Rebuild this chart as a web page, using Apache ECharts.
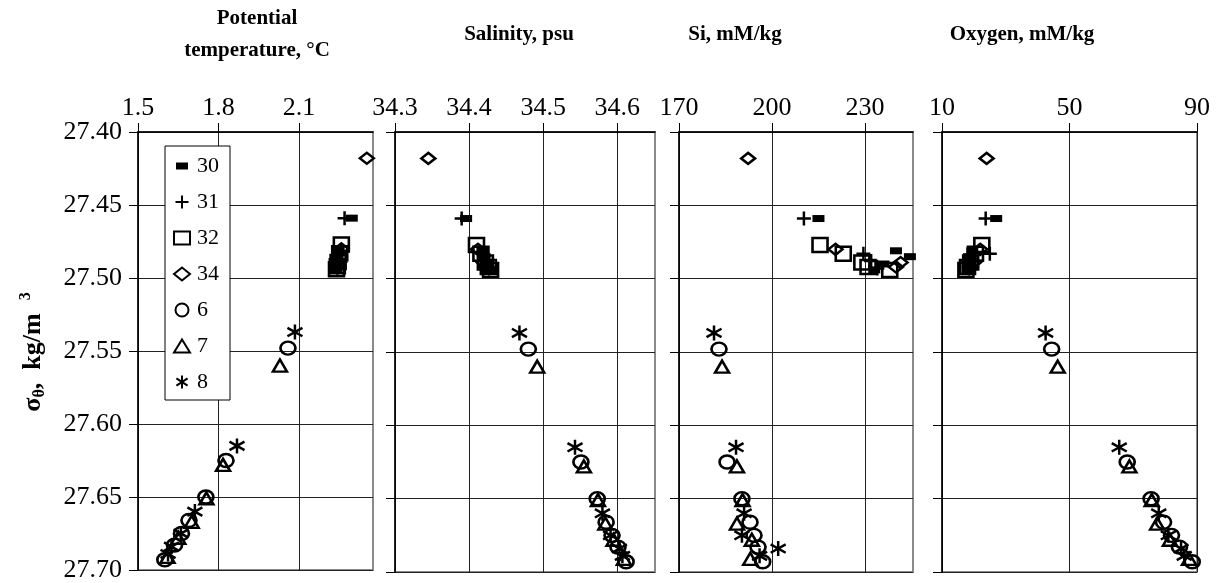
<!DOCTYPE html>
<html>
<head>
<meta charset="utf-8">
<script src="https://cdn.jsdelivr.net/npm/echarts@6/dist/echarts.min.js"></script>
<style>
  html, body { margin: 0; padding: 0; background: #fff; }
  #chart { width: 1218px; height: 583px; }
</style>
</head>
<body>
<div id="chart"></div>
<script>
// rows: [sigma-theta, potential temperature, salinity, Si, oxygen]
const st30 = [
  [27.459, 2.297, 34.396, 215.0, 27.0],
  [27.481, 2.248, 34.418, 240.0, 19.5],
  [27.485, 2.244, 34.421, 244.5, 18.5],
  [27.490, 2.242, 34.425, 236.0, 18.0],
  [27.494, 2.240, 34.428, 233.0, 18.0]
];
const st31 = [
  [27.459, 2.270, 34.390, 210.3, 23.7],
  [27.483, 2.250, 34.418, 229.5, 25.0],
  [27.488, 2.247, 34.422, 232.0, 20.5],
  [27.493, 2.243, 34.427, 234.0, 18.5]
];
const st32 = [
  [27.477, 2.258, 34.410, 215.5, 22.5],
  [27.483, 2.252, 34.416, 223.0, 20.5],
  [27.489, 2.246, 34.422, 229.0, 19.0],
  [27.492, 2.243, 34.426, 231.0, 18.0],
  [27.494, 2.240, 34.429, 238.0, 17.5]
];
const st34 = [
  [27.418, 2.353, 34.345, 192.3, 24.0],
  [27.480, 2.258, 34.412, 220.5, 22.0],
  [27.489, 2.250, 34.420, 241.5, 20.0],
  [27.492, 2.246, 34.424, 240.0, 19.0]
];
const st6 = [
  [27.548, 2.059, 34.480, 182.9, 44.4],
  [27.625, 1.828, 34.551, 185.5, 68.1],
  [27.650, 1.753, 34.573, 190.3, 75.6],
  [27.666, 1.690, 34.585, 192.9, 79.5],
  [27.675, 1.662, 34.593, 194.2, 82.0],
  [27.683, 1.636, 34.601, 195.5, 84.5],
  [27.693, 1.600, 34.612, 197.0, 88.5]
];
const st7 = [
  [27.560, 2.029, 34.492, 183.9, 46.3],
  [27.628, 1.817, 34.555, 188.7, 68.8],
  [27.651, 1.755, 34.574, 190.5, 75.8],
  [27.667, 1.700, 34.584, 188.7, 77.5],
  [27.678, 1.650, 34.595, 193.5, 81.5],
  [27.691, 1.610, 34.609, 193.0, 87.5]
];
const st8 = [
  [27.537, 2.085, 34.468, 181.3, 42.5],
  [27.615, 1.869, 34.543, 188.4, 65.6],
  [27.660, 1.712, 34.580, 191.0, 78.0],
  [27.675, 1.660, 34.591, 190.3, 81.0],
  [27.684, 1.625, 34.603, 202.0, 85.0],
  [27.689, 1.612, 34.607, 196.0, 86.0]
];

const panelTitles = ["Potential\ntemperature, °C", "Salinity, psu", "Si, mM/kg", "Oxygen, mM/kg"];
const xTicks = [
  [1.5, 1.8, 2.1],
  [34.3, 34.4, 34.5, 34.6],
  [170, 200, 230],
  [10, 50, 90]
];
const xRanges = [[1.5, 2.376], [34.3, 34.651], [170, 245.5], [10, 90]];

const FONT = "Liberation Serif";

// station styles
const stations = [
  { name: "30", rows: st30, symbol: "rect", size: [12, 7], fill: "#000", border: 0,
    icon: "path://M0,0M16,13M2,3H14V10H2Z" },
  { name: "31", rows: st31, symbol: "path://M5,0V10M0,5H10", size: [14, 14], fill: "transparent", border: 2.5 },
  { name: "32", rows: st32, symbol: "rect", size: [15, 14], fill: "transparent", border: 2.5 },
  { name: "34", rows: st34, symbol: "diamond", size: [14, 11], fill: "transparent", border: 2.5 },
  { name: "6", rows: st6, symbol: "circle", size: [15, 13], fill: "transparent", border: 2.5 },
  { name: "7", rows: st7, symbol: "triangle", size: [14, 12], fill: "transparent", border: 2.5 },
  { name: "8", rows: st8, symbol: "path://M5,0V10M0.7,2.2L9.3,7.8M0.7,7.8L9.3,2.2", size: [15, 15], fill: "transparent", border: 2.5 }
];

const panelLeft = [138, 395, 679, 942];
const panelWidth = [235, 260, 234, 255];
const titleX = [257, 519, 735, 1022];

const grids = [];
const xAxes = [];
const yAxes = [];
for (let p = 0; p < 4; p++) {
  grids.push({
    left: panelLeft[p], top: 132, width: panelWidth[p], height: 440,
    show: true, borderColor: "#8a8a8a", borderWidth: 2, backgroundColor: "#fff"
  });
  xAxes.push({
    gridIndex: p, type: "value", position: "top",
    min: xRanges[p][0], max: xRanges[p][1],
    axisLine: { show: true, onZero: false, lineStyle: { color: "#000", width: 1.5 } },
    axisTick: { show: true, inside: false, length: 9, customValues: xTicks[p], lineStyle: { color: "#000" } },
    axisLabel: {
      customValues: xTicks[p], margin: 11,
      fontFamily: FONT, fontSize: 26, color: "#000",
      formatter: v => String(v)
    },
    splitLine: { show: true, lineStyle: { color: "#222", width: 1 } }
  });
  yAxes.push({
    gridIndex: p, type: "value", inverse: true,
    min: 27.40, max: 27.70, interval: 0.05,
    axisLine: { show: true, onZero: false, lineStyle: { color: "#000", width: 1.5 } },
    axisTick: { show: true, inside: false, length: 9, lineStyle: { color: "#000" } },
    axisLabel: {
      show: p === 0, margin: 16,
      fontFamily: FONT, fontSize: 26, color: "#000",
      formatter: v => v.toFixed(2)
    },
    splitLine: { show: true, lineStyle: { color: "#222", width: 1 } }
  });
}

const series = [];
stations.forEach(st => {
  for (let p = 0; p < 4; p++) {
    series.push({
      type: "scatter", name: st.name,
      xAxisIndex: p, yAxisIndex: p,
      symbol: st.symbol, symbolSize: st.size,
      itemStyle: { color: st.fill, borderColor: "#000", borderWidth: st.border, opacity: 1 },
      emphasis: { disabled: true },
      data: st.rows.map(r => [r[p + 1], r[0]])
    });
  }
});

const graphics = panelTitles.map((t, i) => ({
  type: "text", x: titleX[i], y: 35,
  style: {
    text: t, fontFamily: FONT, fontWeight: "bold", fontSize: 21, lineHeight: 32,
    fill: "#000", textAlign: "center", textVerticalAlign: "middle"
  }
}));
graphics.push({
  type: "text", x: 33, y: 352, rotation: Math.PI / 2,
  style: {
    text: "{a|σ}{b|θ}{a|,  kg/m  }{c|3}",
    textAlign: "center", textVerticalAlign: "middle",
    rich: {
      a: { fontFamily: FONT, fontWeight: "bold", fontSize: 26, fill: "#000", lineHeight: 30 },
      b: { fontFamily: FONT, fontWeight: "bold", fontSize: 16, fill: "#000", verticalAlign: "bottom", lineHeight: 24 },
      c: { fontFamily: FONT, fontWeight: "bold", fontSize: 16, fill: "#000", verticalAlign: "top", lineHeight: 24 }
    }
  }
});

const chart = echarts.init(document.getElementById("chart"), null, { renderer: "canvas" });
chart.setOption({
  animation: false,
  backgroundColor: "#fff",
  grid: grids,
  xAxis: xAxes,
  yAxis: yAxes,
  legend: {
    data: stations.map(s => (s.icon ? { name: s.name, icon: s.icon } : s.name)),
    orient: "vertical", left: 165, top: 146,
    padding: [9, 11, 7, 8], itemGap: 14, itemWidth: 16, itemHeight: 13,
    borderColor: "#000", borderWidth: 1, backgroundColor: "#fff",
    selectedMode: false,
    textStyle: { fontFamily: FONT, fontSize: 22, color: "#000", padding: [0, 0, 0, 2] }
  },
  graphic: graphics,
  series: series
});
</script>
</body>
</html>
